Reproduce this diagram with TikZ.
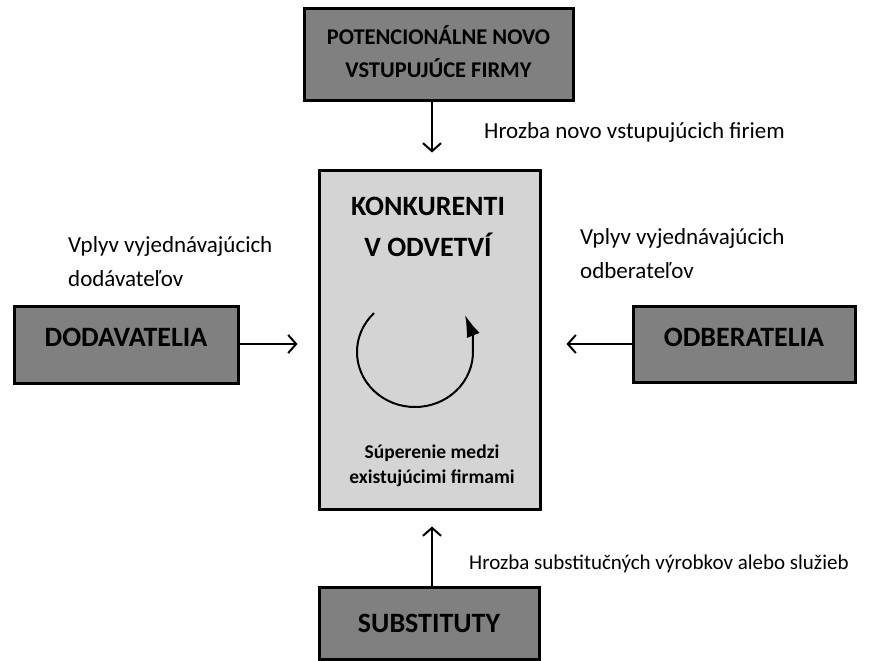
\documentclass[tikz,border=0pt]{standalone}
\usepackage{fontspec}
\setmainfont{Carlito}
\usetikzlibrary{arrows.meta}
\definecolor{darkbox}{HTML}{808080}
\definecolor{lightbox}{HTML}{D4D4D4}
\begin{document}
\begin{tikzpicture}[x=1pt,y=-1pt,
  force/.style={draw=black, line width=3pt, fill=darkbox, inner sep=0pt,
    font=\bfseries\fontsize{28}{30}\selectfont, align=center},
  core/.style={draw=black, line width=3pt, fill=lightbox, inner sep=0pt},
  link/.style={line width=2pt, -{Straight Barb[length=8pt,width=18pt,line width=2pt]}},
  note/.style={font=\fontsize{23}{34}\selectfont, align=left, inner sep=0pt, anchor=west}]
\useasboundingbox (0,0) rectangle (887,661);

% five forces
\node[force, minimum width=269pt, minimum height=92pt,
  font=\bfseries\fontsize{22.5}{33}\selectfont, text depth=7pt]
  (entrants) at (438.5,55) {POTENCIONÁLNE NOVO\\VSTUPUJÚCE FIRMY};
\node[force, minimum width=224pt, minimum height=77pt, text depth=14pt]
  (suppliers) at (126,344.5) {DODAVATELIA};
\node[force, minimum width=222pt, minimum height=76pt, text depth=14pt]
  (buyers) at (744,344) {ODBERATELIA};
\node[force, minimum width=220pt, minimum height=72pt]
  (substitutes) at (429,623) {SUBSTITUTY};
\node[core, minimum width=221pt, minimum height=339pt]
  (comp) at (429.5,339.5) {};

% inside the central box
\node[font=\bfseries\fontsize{28}{41}\selectfont, align=center, inner sep=0pt]
  (title) at (428,227) {KONKURENTI\\V ODVETVÍ};
\node[font=\bfseries\fontsize{19.5}{25}\selectfont, align=center, inner sep=0pt]
  (rivalry) at (432,466) {Súperenie medzi\\existujúcimi firmami};
% rivalry cycle: open loop ending in an upward pointing head
\coordinate (cyc) at (415,352);
\coordinate (cycend) at (465,315);
\draw[line width=2pt, -{Latex[length=22pt,width=14pt]}]
  (cyc) ++(135:58pt and 55pt) arc[start angle=135, end angle=362,
  x radius=58pt, y radius=55pt]
  .. controls (473,335) .. (cycend);

% connectors
\coordinate (ax) at (432,0);
\draw[link, shorten >=16pt] (entrants.south -| ax) -- (comp.north -| ax);
\draw[link, shorten >=16pt] (substitutes.north -| ax) -- (comp.south -| ax);
\coordinate (ay) at (0,344);
\draw[link, shorten >=20pt] (suppliers.east |- ay) -- (comp.west |- ay);
\draw[link, shorten >=25pt] (buyers.west |- ay) -- (comp.east |- ay);

% labels
\node[note] (l1) at (484,132) {Hrozba novo vstupujúcich firiem};
\node[note] (l2) at (68,262) {Vplyv vyjednávajúcich\\dodávateľov};
\node[note] (l3) at (580,254) {Vplyv vyjednávajúcich\\odberateľov};
\node[note, font=\fontsize{21}{30}\selectfont] (l4) at (469,564)
  {Hrozba substitučných výrobkov alebo služieb};
\end{tikzpicture}
\end{document}
